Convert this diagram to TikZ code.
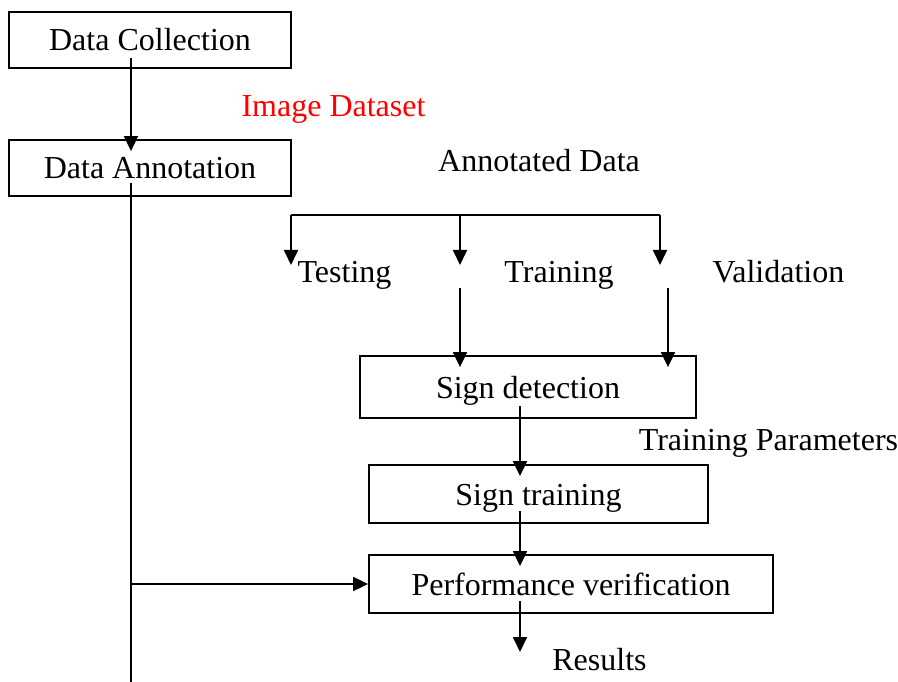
\documentclass[tikz,border=0pt]{standalone}
\usepackage{fontspec}
\setmainfont{Liberation Serif}
\usetikzlibrary{arrows.meta,calc}
\begin{document}
\begin{tikzpicture}[x=1pt,y=-1pt,
  box/.style={draw, line width=1.8pt, inner sep=0pt, text height=22pt, text depth=0pt, font=\fontsize{32}{38}\selectfont},
  lbl/.style={anchor=base, inner sep=0pt, font=\fontsize{32}{38}\selectfont},
  ln/.style={line width=1.8pt},
  arr/.style={line width=1.8pt, -{Triangle[length=15pt,width=14pt]}}]
\useasboundingbox (0,0) rectangle (898,682);
% boxes
\node[box, minimum width=282pt, minimum height=56pt] (dc) at (150,40) {Data Collection};
\node[box, minimum width=282pt, minimum height=56pt] (da) at (150,168) {Data Annotation};
\node[box, minimum width=336pt, minimum height=62pt] (sd) at (528,387) {Sign detection};
\node[box, minimum width=339pt, minimum height=58pt] (st) at (538.5,494) {Sign training};
\node[box, minimum width=404pt, minimum height=58pt] (pv) at (571,584) {Performance verification};
% labels
\node[lbl, text=red] (imgds) at (333.5,117) {Image Dataset};
\node[lbl] (annd) at (539,172) {Annotated Data};
\node[lbl] (test) at (344.5,282) {Testing};
\node[lbl] (train) at (559,282) {Training};
\node[lbl] (valid) at (778.5,282) {Validation};
\node[lbl] (tpar) at (768.5,450) {Training Parameters};
\node[lbl] (res) at (599.5,670) {Results};
% coordinates
\coordinate (bot) at (131,682);
\coordinate (b1) at (291,215);
\coordinate (b2) at (460,215);
\coordinate (b3) at (660,215);
\coordinate (t1) at (291,265);
\coordinate (t2) at (460,265);
\coordinate (t3) at (660,265);
\coordinate (u2) at (460,288);
\coordinate (u3) at (668,288);
\coordinate (rt) at (520,652);
% connectors
\draw[arr] ([xshift=-19pt,yshift=11pt]dc.south) -- ([xshift=-19pt,yshift=-12pt]da.north);
\draw[ln] ([xshift=-19pt,yshift=14pt]da.south) -- (bot);
\draw[arr] (bot |- pv.west) -- (pv.west);
\draw[ln] (b1) -- (b3);
\draw[arr] (b1) -- (t1);
\draw[arr] (b2) -- (t2);
\draw[arr] (b3) -- (t3);
\draw[arr] (u2) -- ([xshift=-68pt,yshift=-12pt]sd.north);
\draw[arr] (u3) -- ([xshift=140pt,yshift=-12pt]sd.north);
\draw[arr] ([xshift=-8pt,yshift=13pt]sd.south) -- ([xshift=-18.5pt,yshift=-12pt]st.north);
\draw[arr] ([xshift=-18.5pt,yshift=13pt]st.south) -- ([xshift=-51pt,yshift=-12pt]pv.north);
\draw[arr] ([xshift=-51pt,yshift=13pt]pv.south) -- (rt);
\end{tikzpicture}
\end{document}
